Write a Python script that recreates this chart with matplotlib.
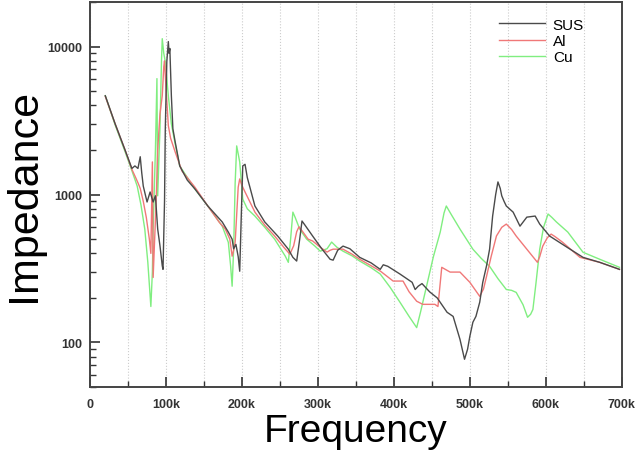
import matplotlib
matplotlib.use("Agg")
import matplotlib.pyplot as plt
from matplotlib.ticker import FixedLocator, LogLocator, NullFormatter

plt.rcParams['font.family'] = ['Liberation Sans', 'DejaVu Sans']

# Frequency in kHz, impedance in ohm
sus_f = [20, 33, 46, 55, 59, 63, 66, 68, 70, 75, 79, 83, 86, 89, 92, 95, 96, 98, 99, 101, 103, 104, 105, 107, 109,
         112, 118, 128, 138, 155, 174, 182, 187, 189, 192, 195, 197, 199, 201, 204, 207, 210, 217, 230, 247, 261,
         267, 272, 276, 279, 283, 293, 305, 316, 320, 326, 333, 342, 355, 370, 382, 386, 392, 408, 424, 428, 432,
         437, 447, 457, 470, 478, 487, 493, 497, 500, 504, 508, 513, 517, 522, 526, 530, 534, 537, 540, 542, 545,
         548, 557, 566, 575, 586, 592, 605, 628, 649, 671, 697]
sus_z = [4650, 3000, 2000, 1500, 1560, 1500, 1800, 1400, 1140, 890, 1040, 890, 980, 584, 450, 330, 312, 900, 2780,
         7900, 10800, 9000, 9700, 4650, 2780, 2270, 1560, 1250, 1090, 836, 652, 557, 499, 430, 460, 380, 303, 700,
         1560, 1600, 1300, 1140, 836, 652, 524, 427, 376, 355, 500, 662, 620, 524, 430, 365, 360, 420, 448, 430,
         376, 345, 312, 335, 327, 290, 255, 228, 240, 250, 220, 200, 160, 150, 105, 77, 90, 110, 137, 150, 187,
         255, 330, 427, 715, 1000, 1216, 1100, 980, 900, 836, 760, 611, 703, 715, 631, 524, 440, 376, 348, 312]

al_f = [20, 33, 46, 55, 60, 63, 66, 70, 74, 78, 80, 82, 83, 85, 87, 89, 92, 95, 97, 98, 100, 103, 106, 112, 121,
        138, 155, 170, 178, 184, 187, 189, 191, 195, 197, 200, 204, 210, 217, 230, 243, 255, 263, 268, 272, 275,
        280, 287, 293, 303, 312, 316, 320, 333, 345, 355, 370, 382, 399, 412, 420, 430, 438, 454, 458, 463, 474,
        487, 500, 513, 518, 522, 528, 535, 542, 548, 555, 561, 575, 589, 592, 596, 602, 607, 612, 622, 645, 671,
        697]
al_z = [4600, 3000, 2000, 1480, 1300, 1200, 1100, 900, 700, 500, 400, 1660, 275, 500, 900, 2000, 3500, 4650, 7300,
        8000, 5190, 2920, 2400, 1940, 1440, 1120, 836, 650, 584, 499, 383, 420, 475, 1120, 1274, 1150, 1040, 900,
        760, 620, 524, 440, 395, 450, 560, 605, 560, 499, 485, 440, 408, 420, 427, 427, 395, 365, 330, 304, 260,
        260, 220, 190, 181, 181, 175, 322, 299, 299, 255, 205, 230, 280, 380, 524, 600, 631, 580, 524, 427, 348,
        380, 448, 510, 540, 520, 476, 376, 348, 312]

cu_f = [20, 33, 46, 55, 62, 67, 72, 76, 80, 82, 83, 86, 88, 89, 91, 92, 94, 95, 97, 99, 103, 107, 112, 118, 138,
        155, 174, 182, 185, 187, 189, 191, 193, 197, 201, 207, 217, 230, 243, 257, 261, 264, 267, 270, 276, 285,
        296, 303, 312, 318, 325, 333, 345, 355, 370, 382, 395, 408, 420, 430, 435, 443, 452, 461, 466, 469, 475,
        487, 504, 515, 526, 537, 548, 555, 561, 570, 576, 580, 583, 587, 592, 597, 603, 608, 614, 629, 649, 671,
        697]
cu_z = [4650, 2950, 1950, 1450, 1140, 850, 584, 348, 175, 300, 584, 2000, 6070, 980, 2000, 2780, 8000, 11300, 9000,
        7900, 4650, 3000, 2200, 1560, 1090, 836, 611, 475, 330, 240, 427, 1200, 2130, 1660, 930, 800, 715, 600,
        499, 383, 348, 500, 760, 700, 584, 500, 448, 414, 430, 477, 440, 414, 385, 355, 320, 290, 236, 187, 150,
        126, 160, 240, 380, 557, 750, 836, 740, 584, 427, 370, 327, 270, 228, 225, 218, 180, 148, 155, 167, 250,
        427, 600, 738, 700, 652, 557, 407, 365, 322]

series_names = ["SUS", "Al", "Cu"]
x_ticks_k = [0, 100, 200, 300, 400, 500, 600, 700]
x_tick_labels = ["0", "100k", "200k", "300k", "400k", "500k", "600k", "700k"]
y_ticks = [100, 1000, 10000]
y_tick_labels = ["100", "1000", "10000"]

fig = plt.figure(figsize=(6.39, 4.60), dpi=100)
ax = fig.add_axes([0.141, 0.1565, 0.832, 0.837])

ax.plot([f * 1000 for f in sus_f], sus_z, color="#4a4a4a", lw=1.0, label=series_names[0], zorder=4)
ax.plot([f * 1000 for f in al_f], al_z, color="#f07878", lw=1.0, label=series_names[1], zorder=3)
ax.plot([f * 1000 for f in cu_f], cu_z, color="#80ee80", lw=1.0, label=series_names[2], zorder=2)

ax.set_yscale("log")
ax.set_xlim(0, 700000)
ax.set_ylim(50, 20000)

ax.xaxis.set_major_locator(FixedLocator([t * 1000 for t in x_ticks_k]))
ax.xaxis.set_minor_locator(FixedLocator([t * 1000 + 50000 for t in x_ticks_k[:-1]]))
ax.set_xticklabels(x_tick_labels)
ax.yaxis.set_major_locator(FixedLocator(y_ticks))
ax.set_yticklabels(y_tick_labels)
ax.yaxis.set_minor_locator(LogLocator(base=10, subs=range(2, 10)))
ax.yaxis.set_minor_formatter(NullFormatter())

for lbl in ax.get_xticklabels() + ax.get_yticklabels():
    lbl.set_fontweight("bold")
    lbl.set_fontsize(9)
    lbl.set_color("#222222")

ax.tick_params(which="both", direction="in", top=False, right=False, colors="#333333")
ax.tick_params(axis="x", which="major", length=7, width=1.2, pad=8)
ax.tick_params(axis="y", which="major", length=7, width=1.2, pad=6)
ax.tick_params(which="minor", length=4, width=1.0)

ax.grid(True, axis="x", which="both", linestyle=":", color="#cccccc", lw=0.8)
for s in ax.spines.values():
    s.set_color("#444444")
    s.set_linewidth(1.4)

ax.set_xlabel("Frequency", fontsize=28, labelpad=2)
ax.set_ylabel("Impedance", fontsize=31, labelpad=2)

leg = ax.legend(loc="upper right", bbox_to_anchor=(0.955, 0.995), frameon=False, fontsize=11,
                handlelength=3.0, handletextpad=0.5, labelspacing=0.15)

fig.savefig("out.png", dpi=100)
